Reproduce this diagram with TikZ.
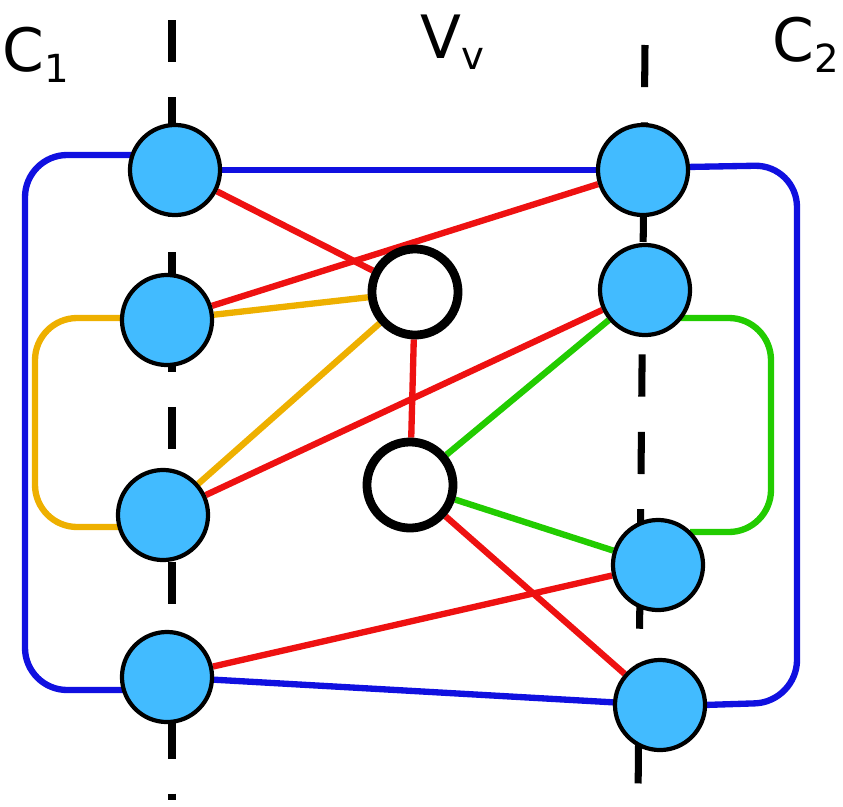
\documentclass[tikz,border=0pt]{standalone}
\usepackage{fontspec}
\setmainfont{DejaVu Sans}
\usetikzlibrary{backgrounds}
\definecolor{cfill}{HTML}{42BBFF}
\definecolor{cblue}{HTML}{1010E0}
\definecolor{cred}{HTML}{EE1111}
\definecolor{corange}{HTML}{EEB000}
\definecolor{cgreen}{HTML}{22CC00}
\tikzset{
  vert/.style={circle, draw, line width=1.2pt, fill=cfill, minimum size=0.9cm, inner sep=0pt},
  hole/.style={circle, draw, line width=2.5pt, fill=white, minimum size=0.86cm, inner sep=0pt},
  edge/.style={line width=1.8pt},
  axis/.style={line width=2pt, dash pattern=on 12pt off 10pt},
  lab/.style={font=\fontsize{17}{17}\selectfont, inner sep=0pt}
}
\begin{document}
\begin{tikzpicture}[x=0.01cm, y=-0.01cm]
  \useasboundingbox (0,0) rectangle (843,806);
  \node[lab] (C1) at (36,55) {C\raisebox{-0.35ex}{\fontsize{11}{11}\selectfont 1}};
  \node[lab] (Vv) at (452,42) {V\raisebox{-0.35ex}{\fontsize{11}{11}\selectfont v}};
  \node[lab] (C2) at (806,45) {C\raisebox{-0.35ex}{\fontsize{11}{11}\selectfont 2}};
  % vertices
  \node[vert] (L1) at (175,170) {};
  \node[vert] (L2) at (167,320) {};
  \node[vert] (L3) at (163,515) {};
  \node[vert] (L4) at (167,677) {};
  \node[vert] (R1) at (643,170) {};
  \node[vert] (R2) at (645,290) {};
  \node[vert] (R3) at (658,565) {};
  \node[vert] (R4) at (660,705) {};
  \node[hole] (V1) at (415,292) {};
  \node[hole] (V2) at (410,485) {};
  \begin{scope}[on background layer]
  \draw[axis] (172,20) -- (172,800);
  \draw[axis] (645,45) -- (638,800);
  % loops around each side
  \draw[edge, cblue, rounded corners=12pt] (133,155) -- (25,155) -- (25,690) -- (123,690);
  \draw[edge, cblue, rounded corners=12pt] (686,167) -- (797,165) -- (797,702) -- (704,705);
  \draw[edge, corange, rounded corners=12pt] (123,318) -- (35,318) -- (35,527) -- (120,527);
  \draw[edge, cgreen, rounded corners=12pt] (680,318) -- (771,318) -- (771,532) -- (690,532);
  \draw[edge, cblue] (L1) -- (R1);
  \draw[edge, cblue] (L4) -- (R4);
  \draw[edge, corange] (L2) -- (V1);
  \draw[edge, corange] (L3) -- (V1);
  \draw[edge, cgreen] (R2) -- (V2);
  \draw[edge, cgreen] (V2) -- (R3);
  \draw[edge, cred] (L1) -- (V1);
  \draw[edge, cred] (R1) -- (L2);
  \draw[edge, cred] (V1) -- (V2);
  \draw[edge, cred] (R2) -- (L3);
  \draw[edge, cred] (V2) -- (R4);
  \draw[edge, cred] (R3) -- (L4);
  \end{scope}
\end{tikzpicture}
\end{document}
